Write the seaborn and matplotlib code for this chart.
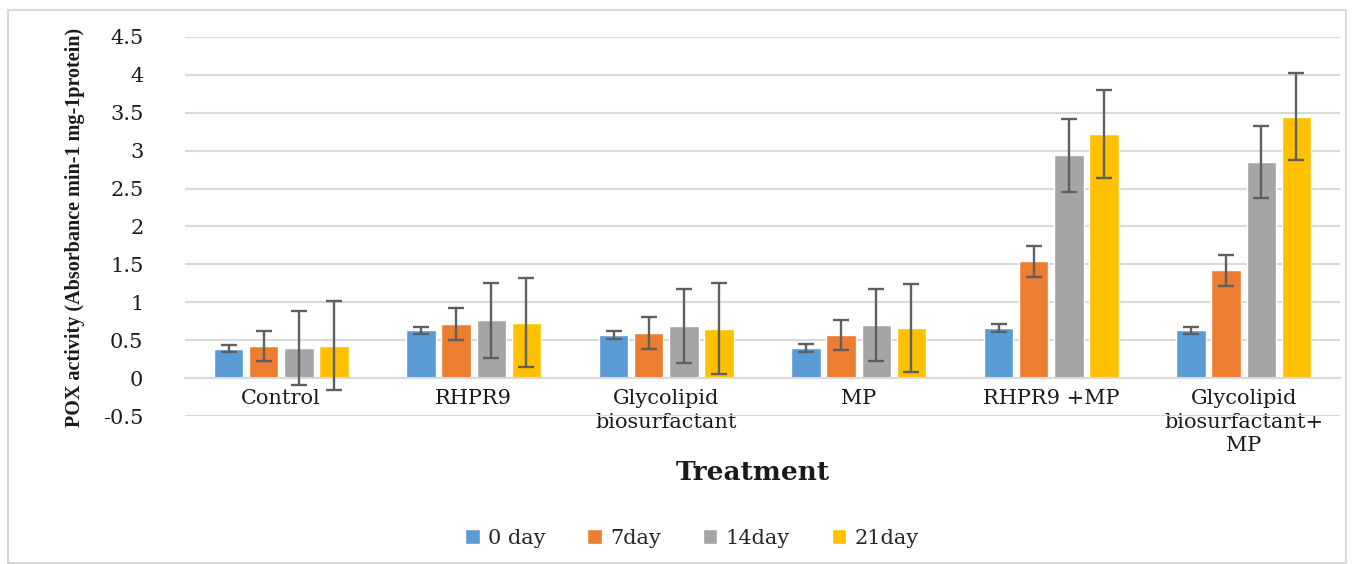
"""POX activity over time for each treatment, grouped bars with SD error bars."""

import matplotlib

matplotlib.use("Agg")
import matplotlib.pyplot as plt
import numpy as np
import pandas as pd
import seaborn as sns
from matplotlib.patches import Rectangle

treatments = [
    "Control",
    "RHPR9",
    "Glycolipid\nbiosurfactant",
    "MP",
    "RHPR9 +MP",
    "Glycolipid\nbiosurfactant+\nMP",
]
days = ["0 day", "7day", "14day", "21day"]

day0 = [0.39, 0.63, 0.57, 0.40, 0.66, 0.63]
day7 = [0.42, 0.71, 0.60, 0.57, 1.54, 1.42]
day14 = [0.40, 0.76, 0.69, 0.70, 2.94, 2.85]
day21 = [0.43, 0.73, 0.65, 0.66, 3.22, 3.45]

sd0 = [0.05, 0.05, 0.05, 0.05, 0.05, 0.05]
sd7 = [0.20, 0.21, 0.21, 0.20, 0.20, 0.20]
sd14 = [0.49, 0.49, 0.49, 0.48, 0.48, 0.48]
sd21 = [0.59, 0.59, 0.60, 0.58, 0.58, 0.57]

colors = ["#5B9BD5", "#ED7D31", "#A5A5A5", "#FFC000"]
yticks = [-0.5, 0, 0.5, 1, 1.5, 2, 2.5, 3, 3.5, 4, 4.5]

means = [day0, day7, day14, day21]
sds = [sd0, sd7, sd14, sd21]

rows = []
for d, vals in zip(days, means):
    for t, v in zip(treatments, vals):
        rows.append({"Treatment": t, "Day": d, "POX": v})
df = pd.DataFrame(rows)

sns.set_theme(style="white")
plt.rcParams["font.family"] = ["DejaVu Serif"]

fig = plt.figure(figsize=(13.54, 5.64), dpi=100)
ax = fig.add_axes([185 / 1354, 1 - 416 / 564, 1155 / 1354, 379 / 564])

sns.barplot(
    data=df, x="Treatment", y="POX", hue="Day",
    order=treatments, hue_order=days, palette=colors,
    width=0.73, gap=0.16, errorbar=None, saturation=1, ax=ax, legend=True,
)

# error bars from the SD lists
for cont, sd in zip(ax.containers, sds):
    xs = [p.get_x() + p.get_width() / 2 for p in cont.patches]
    ys = [p.get_height() for p in cont.patches]
    ax.errorbar(xs, ys, yerr=sd, fmt="none", ecolor="#5f5f5f",
                elinewidth=1.7, capsize=5.5, capthick=1.7, zorder=3)

ax.set_ylim(-0.5, 4.5)
ax.set_xlim(-0.5, 5.5)
ax.set_yticks(yticks)
ax.set_yticklabels([f"{v:g}" for v in yticks])
ax.yaxis.grid(True, color="#D9D9D9", linewidth=1.5)
ax.set_axisbelow(True)
for s in ["top", "right", "left"]:
    ax.spines[s].set_visible(False)
ax.spines["bottom"].set_position(("data", 0))
ax.spines["bottom"].set_color("#D9D9D9")
ax.spines["bottom"].set_linewidth(1.5)
ax.tick_params(axis="y", length=0, pad=30, labelsize=15, colors="#1a1a1a")
ax.tick_params(axis="x", length=0, pad=8, labelsize=15, colors="#1a1a1a")
for lbl in ax.get_xticklabels():
    lbl.set_linespacing(1.3)
ax.set_xlabel("")
ax.set_ylabel("")

fig.text(75 / 1354, 1 - 227 / 564, "POX activity (Absorbance min-1 mg-1protein)",
         rotation=90, ha="center", va="center", fontsize=14.5,
         family="Liberation Serif", fontweight="bold", color="#1a1a1a")
fig.text(753 / 1354, 1 - 472 / 564, "Treatment", ha="center", va="center",
         fontsize=19, fontweight="bold", color="#1a1a1a")

handles, labels = ax.get_legend_handles_labels()
ax.get_legend().remove()
fig.legend(handles, labels, loc="center", bbox_to_anchor=(692 / 1354, 1 - 538 / 564),
           ncol=4, frameon=False, fontsize=15, handlelength=0.7, handleheight=0.7,
           handletextpad=0.4, columnspacing=2.0)

fig.patches.append(Rectangle((8 / 1354, 0.002), 1338 / 1354, 1 - 10 / 564 - 0.002,
                             transform=fig.transFigure, fill=False,
                             edgecolor="#D9D9D9", linewidth=1.5))

fig.savefig("out.png", dpi=100)
